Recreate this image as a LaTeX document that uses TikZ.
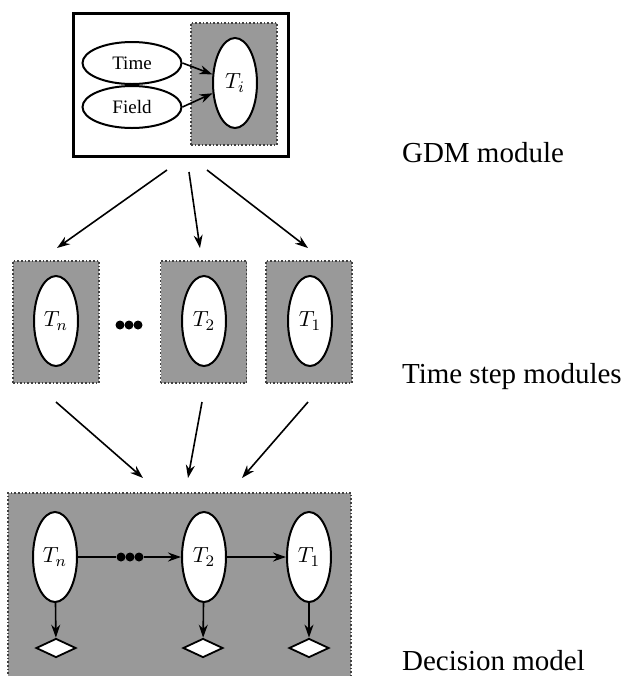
\documentclass[tikz,border=0pt]{standalone}
\usepackage{fontspec}
\setmainfont{Liberation Serif}
\usetikzlibrary{arrows.meta,shapes.geometric,positioning}
\tikzset{
  chance/.style={ellipse,draw,line width=1pt,fill=white,inner sep=0pt,minimum width=22pt,minimum height=45pt,font=\fontsize{11}{13}\selectfont},
  input/.style={ellipse,draw,line width=1pt,fill=white,inner sep=0pt,minimum width=49.5pt,minimum height=21pt,font=\fontsize{9.5}{11}\selectfont},
  module/.style={rectangle,draw=black!75,densely dotted,line width=0.8pt,fill=black!40,inner sep=0pt},
  utility/.style={diamond,draw,line width=0.9pt,fill=white,inner sep=0pt,minimum width=20pt,minimum height=9.5pt},
  dot/.style={circle,fill=black,inner sep=0pt,minimum size=4.5pt},
  link/.style={-{Stealth[length=6.5pt,width=4.5pt]},line width=0.8pt},
  modlabel/.style={anchor=base west,font=\fontsize{14.5}{17}\selectfont}
}
\begin{document}
\begin{tikzpicture}[x=0.5pt,y=-0.5pt]
  \useasboundingbox (0,0) rectangle (628,676);
  %--------------- GDM module ---------------
  \node[draw,line width=1.5pt,inner sep=0pt,minimum width=107.5pt,minimum height=71.5pt] (gdm) at (180.5,84.5) {};
  \node[module,minimum width=43pt,minimum height=61pt] (gdmbox) at (234,84) {};
  \node[input] (time) at (132,63) {Time};
  \node[input] (field) at (132,107) {Field};
  \node[chance] (ti) at (235,83) {$T_i$};
  \draw[link] (time.east) -- (ti);
  \draw[link] (field.east) -- (ti);
  \node[modlabel] (gdmlabel) at (395,162) {GDM module};

  %--------------- Time step modules ---------------
  \node[module,minimum width=43pt,minimum height=61pt] (tnbox) at (56,322) {};
  \node[module,minimum width=43pt,minimum height=61pt] (t2box) at (203.5,322) {};
  \node[module,minimum width=43pt,minimum height=61pt] (t1box) at (309,322) {};
  \node[chance] (mtn) at (56,321) {$T_n$};
  \node[chance] (mt2) at (204,321) {$T_2$};
  \node[chance] (mt1) at (310,321) {$T_1$};
  \foreach \i/\x in {1/120,2/129,3/138}
    \node[dot] (md\i) at (\x,325) {};
  \node[modlabel] (steplabel) at (395,383) {Time step modules};

  %--------------- Decision model ---------------
  \node[module,minimum width=171.5pt,minimum height=93pt] (dm) at (179.5,586) {};
  \node[chance] (btn) at (55,557) {$T_n$};
  \node[chance] (bt2) at (204,557) {$T_2$};
  \node[chance] (bt1) at (309,557) {$T_1$};
  \foreach \i/\x in {1/121,2/130,3/139}
    \node[dot] (bd\i) at (\x,557) {};
  \node[utility] (un) at (56,648) {};
  \node[utility] (u2) at (203,648) {};
  \node[utility] (u1) at (309,648) {};
  \node[modlabel] (dmlabel) at (395,670) {Decision model};

  %--------------- arrows ---------------
  % GDM -> time steps
  \coordinate (gdm-l) at (167,170);
  \coordinate (gdm-m) at (189,172);
  \coordinate (gdm-r) at (207,170);
  \coordinate (tn-in) at (57,248);
  \coordinate (t2-in) at (200,248);
  \coordinate (t1-in) at (308,248);
  \draw[link] (gdm-l) -- (tn-in);
  \draw[link] (gdm-m) -- (t2-in);
  \draw[link] (gdm-r) -- (t1-in);
  % time steps -> decision model
  \coordinate (tn-out) at (56,402);
  \coordinate (t2-out) at (202,402);
  \coordinate (t1-out) at (308,402);
  \coordinate (dm-l) at (143,478);
  \coordinate (dm-m) at (188,478);
  \coordinate (dm-r) at (242,478);
  \draw[link] (tn-out) -- (dm-l);
  \draw[link] (t2-out) -- (dm-m);
  \draw[link] (t1-out) -- (dm-r);
  % inside decision model
  \draw[line width=0.8pt] (btn) -- (bd1);
  \draw[link] (bd3) -- (bt2);
  \draw[link] (bt2) -- (bt1);
  \draw[link] (btn) -- (un);
  \draw[link] (bt2) -- (u2);
  \draw[link] (bt1) -- (u1);
\end{tikzpicture}
\end{document}
